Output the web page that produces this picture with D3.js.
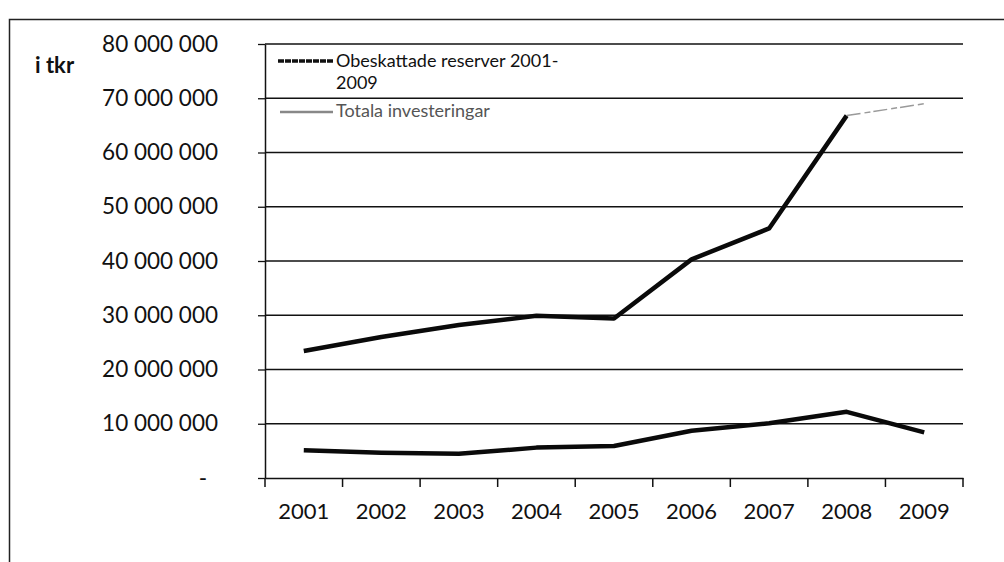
<!DOCTYPE html>
<html>
<head>
<meta charset="utf-8">
<script src="https://cdn.jsdelivr.net/npm/d3@7/dist/d3.min.js"></script>
<style>
  html, body { margin: 0; padding: 0; background: #fff; }
  svg { display: block; }
  text { font-family: Lato, "Open Sans", sans-serif; fill: #111; }
</style>
</head>
<body>
<svg id="chart" width="1004" height="562"></svg>
<script>
// ---- data ----
const years = ["2001", "2002", "2003", "2004", "2005", "2006", "2007", "2008", "2009"];
const totalaInvesteringar = [23400000, 26000000, 28200000, 29900000, 29400000, 40300000, 46000000, 66800000, 69000000];
const obeskattadeReserver = [5100000, 4650000, 4450000, 5600000, 5900000, 8700000, 10100000, 12200000, 8400000];
const yTickValues = [0, 10000000, 20000000, 30000000, 40000000, 50000000, 60000000, 70000000, 80000000];
const yTickLabels = ["-", "10 000 000", "20 000 000", "30 000 000", "40 000 000", "50 000 000", "60 000 000", "70 000 000", "80 000 000"];
const legendLabels = [["Obeskattade reserver 2001-", "2009"], ["Totala investeringar"]];
const unitLabel = "i tkr";

// ---- layout ----
const svg = d3.select("#chart");
const plot = { left: 265, right: 963, top: 44, bottom: 478 };

// outer frame (only top and left visible)
svg.append("rect")
  .attr("x", 9.5).attr("y", 19.5)
  .attr("width", 1100).attr("height", 700)
  .attr("fill", "none").attr("stroke", "#222").attr("stroke-width", 1.5);

const x = d3.scaleBand().domain(years).range([plot.left, plot.right]).paddingInner(0).paddingOuter(0);
const y = d3.scaleLinear().domain([0, 80000000]).range([plot.bottom, plot.top]);

// gridlines
svg.append("g")
  .selectAll("line")
  .data(yTickValues.filter(v => v > 0))
  .join("line")
  .attr("x1", plot.left).attr("x2", plot.right)
  .attr("y1", d => y(d)).attr("y2", d => y(d))
  .attr("stroke", "#111").attr("stroke-width", 1.3);

// y axis
const yAxis = d3.axisLeft(y)
  .tickValues(yTickValues)
  .tickFormat((d, i) => yTickLabels[i])
  .tickSizeInner(7).tickSizeOuter(0).tickPadding(40);
const gy = svg.append("g").attr("transform", `translate(${plot.left},0)`).call(yAxis);
gy.select(".domain").attr("stroke", "#111").attr("stroke-width", 1.5);
gy.selectAll(".tick line").attr("stroke", "#111").attr("stroke-width", 1.3);
gy.selectAll(".tick text")
  .attr("font-size", 22.5).attr("fill", "#111")
  .style("font-family", "Lato, sans-serif");
gy.selectAll(".tick text").filter((d, i) => i === 0).attr("dx", -11);

// x axis
const xAxis = d3.axisBottom(x).tickSizeInner(0).tickSizeOuter(0).tickPadding(25);
const gx = svg.append("g").attr("transform", `translate(0,${plot.bottom})`).call(xAxis);
gx.select(".domain").attr("stroke", "#111").attr("stroke-width", 1.5);
gx.selectAll(".tick text")
  .attr("font-size", 22).attr("fill", "#111")
  .style("font-family", "Lato, sans-serif");
// x tick marks between categories
const boundaries = years.map(yr => x(yr)).concat([x(years[years.length - 1]) + x.bandwidth()]);
gx.append("g").selectAll("line")
  .data(boundaries)
  .join("line")
  .attr("x1", d => d).attr("x2", d => d)
  .attr("y1", 0).attr("y2", 9)
  .attr("stroke", "#111").attr("stroke-width", 1.5);

// unit label
svg.append("text")
  .attr("x", 35).attr("y", 67)
  .attr("dominant-baseline", "middle")
  .attr("font-size", 22).attr("font-weight", "bold")
  .text(unitLabel);

// lines
const cx = yr => x(yr) + x.bandwidth() / 2;
const line = d3.line().x(d => cx(d.year)).y(d => y(d.value));
const seriesTop = years.map((yr, i) => ({ year: yr, value: totalaInvesteringar[i] }));
const seriesBottom = years.map((yr, i) => ({ year: yr, value: obeskattadeReserver[i] }));

// top series: dark up to 2008, faint last segment
svg.append("path")
  .datum(seriesTop.slice(0, seriesTop.length - 1))
  .attr("d", line)
  .attr("fill", "none").attr("stroke", "#0a0a0a").attr("stroke-width", 4.5)
  .attr("stroke-linejoin", "round").attr("stroke-linecap", "butt");
svg.append("path")
  .datum(seriesTop.slice(seriesTop.length - 2))
  .attr("d", line)
  .attr("fill", "none").attr("stroke", "#9a9a9a").attr("stroke-width", 1.5)
  .attr("stroke-dasharray", "14 4 6 3");

svg.append("path")
  .datum(seriesBottom)
  .attr("d", line)
  .attr("fill", "none").attr("stroke", "#0a0a0a").attr("stroke-width", 4.5)
  .attr("stroke-linejoin", "round").attr("stroke-linecap", "butt");

// legend (transparent, gridlines show through)
const legend = svg.append("g");
legend.append("line")
  .attr("x1", 278).attr("x2", 333).attr("y1", 61).attr("y2", 61)
  .attr("stroke", "#111").attr("stroke-width", 3.5).attr("stroke-dasharray", "6 1");
legend.append("line")
  .attr("x1", 280).attr("x2", 333).attr("y1", 112).attr("y2", 112)
  .attr("stroke", "#888").attr("stroke-width", 2.5);
legend.append("text")
  .attr("x", 336).attr("y", 62).attr("dominant-baseline", "middle")
  .attr("font-size", 18)
  .text(legendLabels[0][0]);
legend.append("text")
  .attr("x", 336).attr("y", 84).attr("dominant-baseline", "middle")
  .attr("font-size", 18)
  .text(legendLabels[0][1]);
legend.append("text")
  .attr("x", 336).attr("y", 112).attr("dominant-baseline", "middle")
  .attr("font-size", 18)
  .style("fill", "#555")
  .text(legendLabels[1][0]);
</script>
</body>
</html>
